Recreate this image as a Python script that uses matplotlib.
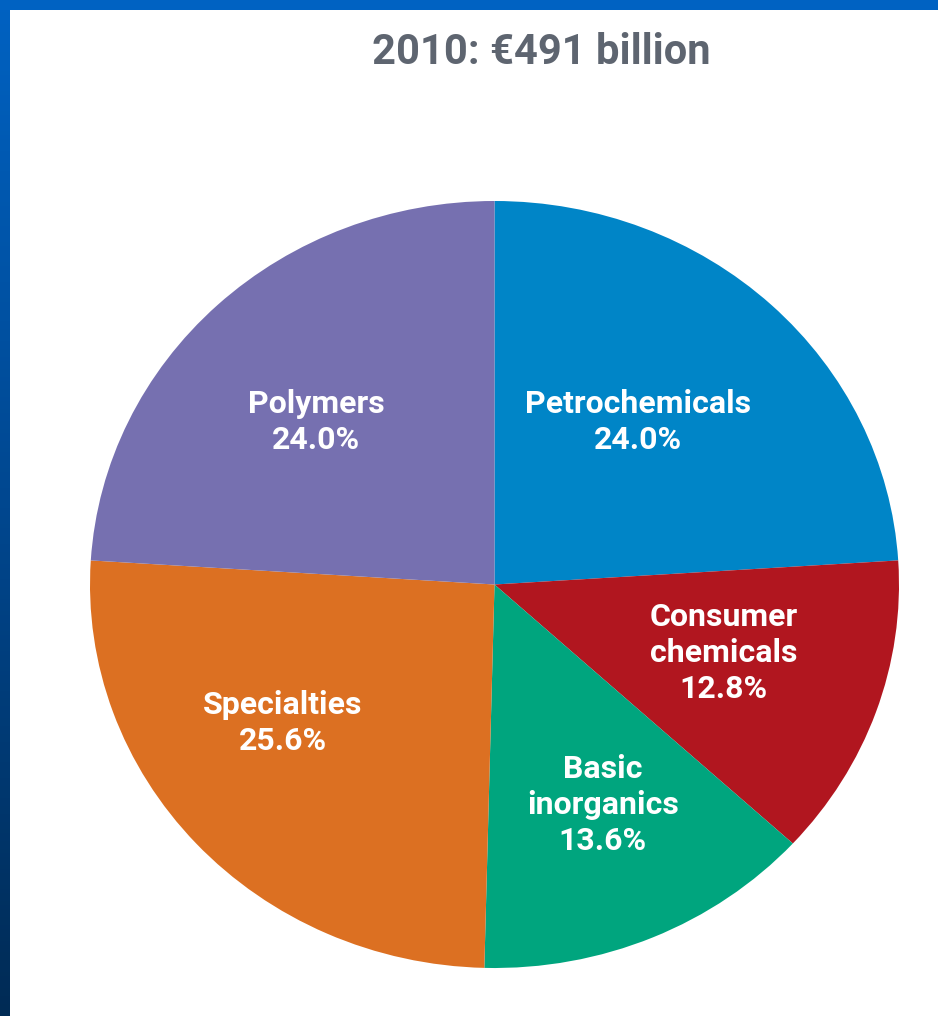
import numpy as np
import matplotlib.pyplot as plt
from matplotlib.colors import LinearSegmentedColormap
from matplotlib.patches import Rectangle

# EU chemical sales by segment, 2010
segments = ["Petrochemicals", "Consumer\nchemicals", "Basic\ninorganics",
            "Specialties", "Polymers"]
shares = [24.0, 12.8, 13.6, 25.6, 24.0]
colors = ["#0085C7", "#B1161F", "#00A57E", "#DC7022", "#7670B0"]
title = "2010: \u20ac491 billion"

# label centres inside the pie (axes data units, pie radius = 1)
label_pos = [(0.355, 0.424), (0.567, -0.179), (0.268, -0.575),
             (-0.523, -0.361), (-0.441, 0.424)]

W, H = 938, 1016
fig = plt.figure(figsize=(W / 100, H / 100), dpi=100)
fig.patch.set_facecolor("white")

font = ["Roboto", "DejaVu Sans"]

# pie is slightly wider than tall, so axes are placed in pixels and aspect left free
ax = fig.add_axes([90 / W, 48 / H, 809 / W, 767 / H])
ax.pie(shares, colors=colors, startangle=90, counterclock=False, radius=1,
       wedgeprops=dict(linewidth=0))
ax.set_aspect("auto")
ax.set_xlim(-1, 1)
ax.set_ylim(-1, 1)
ax.axis("off")

for name, val, (x, y) in zip(segments, shares, label_pos):
    ax.text(x, y, f"{name}\n{val:.1f}%", ha="center", va="center",
            color="white", fontsize=23, fontweight="bold", family=font,
            linespacing=1.25)

fig.text(541 / W, 1 - 52 / H, title, ha="center", va="center",
         color="#5E6570", fontsize=30, fontweight="bold", family=font)

# blue frame: flat band on top, dark gradient down the left side
fig.patches.append(Rectangle((0, 1 - 10 / H), 1, 10 / H, transform=fig.transFigure,
                             facecolor="#0062C2", edgecolor="none", zorder=5))
side = fig.add_axes([0, 0, 9 / W, 1])
grad = np.linspace(0, 1, 256).reshape(-1, 1)
cmap = LinearSegmentedColormap.from_list("frame", ["#0062C2", "#00478F", "#002B55"])
side.imshow(grad, aspect="auto", cmap=cmap, extent=[0, 1, 1, 0])
side.axis("off")

fig.savefig("out.png", dpi=100)
